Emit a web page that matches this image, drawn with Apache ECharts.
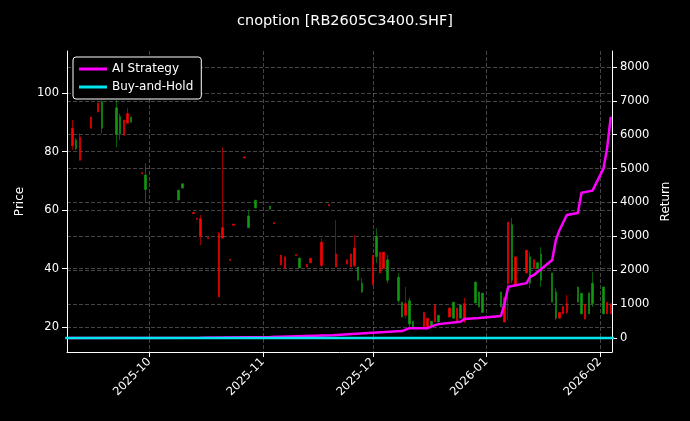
<!DOCTYPE html>
<html><head><meta charset="utf-8">
<script src="https://cdn.jsdelivr.net/npm/echarts@6/dist/echarts.min.js"></script>
<style>html,body{margin:0;padding:0;background:#000;}#c{width:690px;height:421px;}</style>
</head><body><div id="c"></div>
<script>
const dates=['2025-09-10','2025-09-11','2025-09-12','2025-09-15','2025-09-17','2025-09-18','2025-09-22','2025-09-23','2025-09-24','2025-09-25','2025-09-26','2025-09-29','2025-09-30','2025-10-09','2025-10-10','2025-10-13','2025-10-14','2025-10-15','2025-10-17','2025-10-20','2025-10-21','2025-10-23','2025-10-24','2025-10-27','2025-10-28','2025-10-30','2025-11-03','2025-11-04','2025-11-06','2025-11-07','2025-11-10','2025-11-11','2025-11-13','2025-11-14','2025-11-17','2025-11-19','2025-11-21','2025-11-24','2025-11-25','2025-11-26','2025-11-27','2025-11-28','2025-12-01','2025-12-02','2025-12-03','2025-12-04','2025-12-05','2025-12-08','2025-12-09','2025-12-10','2025-12-11','2025-12-12','2025-12-15','2025-12-16','2025-12-17','2025-12-18','2025-12-19','2025-12-22','2025-12-23','2025-12-24','2025-12-25','2025-12-26','2025-12-29','2025-12-30','2025-12-31','2026-01-05','2026-01-06','2026-01-07','2026-01-08','2026-01-09','2026-01-12','2026-01-13','2026-01-14','2026-01-15','2026-01-16','2026-01-19','2026-01-20','2026-01-21','2026-01-22','2026-01-23','2026-01-26','2026-01-27','2026-01-28','2026-01-29','2026-01-30','2026-02-02','2026-02-03','2026-02-04'];
const opens=[82,84,77,88,93.5,97,95,92,85.6,89.7,91.8,72.4,72,66.8,69,58.8,56.8,51,50.2,30.3,50.4,42.8,54.8,77.8,58,63.4,61.4,55.3,41.2,40,44.4,43.6,40.5,42,41,61.5,40.5,41.5,40.5,41,40.5,35,34.4,51,38.5,40,43,37,28.5,24,29,22,19.7,19.7,22,21.7,24,23.4,28.5,21.7,27.5,22,35.4,32,31.6,32,21.7,34.8,55,34.4,38.5,44,40,42,45,38.5,32,23,24.5,25,33.7,31.5,22.7,31.7,35,33.7,24.5,24.5];
const closes=[88,81,85,91.8,96.6,88,86,86,90.8,93,90,72.8,67,63.4,67.5,59.2,57.2,57,50.6,52,54,43.2,55.2,78.2,54,60.7,60.3,55.7,44.6,44,44.8,40.2,41.5,43.5,49,61.9,45,43,45,47,36,32,44.6,44,45.6,45.6,36,29,23.4,28,21,20,25,23,20,27.5,21.7,26.5,23,26.5,23,28,28.2,26.8,25,26.8,30,55.9,36,44,46.3,35,43,40,36,28.5,23,25,27,28,28.5,24.5,27.8,24.5,28,24.5,28.5,28];
const lows=[80.5,80.5,77,88,93.5,86.3,81.5,84,85.6,89.7,90,72.4,62.4,63.4,67.5,58.8,56.8,48,50.2,30.3,50.4,42.8,54.8,77.8,53.8,60.7,60.3,55.3,41.2,40,44.4,40.2,40.5,42,40.5,61.5,40.5,41.5,40.5,40.5,36,31.6,34.4,41.9,38.5,40,35,28.2,23.4,23,20,20,19.7,19.7,20,21.7,21.7,23.4,23,21.7,23,21.4,28.2,26.8,25,26.8,21.7,22.4,35,34.4,38.5,33.3,40,40,33.7,28.5,22.4,23,24.5,24.5,28.5,24.5,22.7,24.5,26.8,24.5,24.5,24.5];
const highs=[90.8,84.6,86.3,91.8,96.6,97.6,97.6,93,90.8,95,91.8,72.8,76,66.8,69,59.2,57.2,58.3,50.6,52.5,81.5,43.2,55.2,78.2,60,63.4,61.4,55.7,44.6,44,44.8,43.6,41.5,43.5,50.4,61.9,56.6,43,45,51.5,40.5,36.7,44.6,53.8,45.6,45.6,44.6,38.5,28.5,33.7,30,22,25,23,22,27.5,24,26.5,28.5,26.5,27.5,30,35.4,32,31.6,32,30,55.9,57.3,44,46.3,45.6,43,42,47.3,38.5,33.3,25,27,31,33.7,31.5,27.8,31.7,38.8,33.7,28.5,28];
const stratDates=['2025-09-09','2025-10-15','2025-11-03','2025-11-20','2025-12-01','2025-12-09','2025-12-11','2025-12-16','2025-12-18','2025-12-19','2025-12-25','2025-12-26','2025-12-30','2026-01-05','2026-01-06','2026-01-07','2026-01-12','2026-01-13','2026-01-14','2026-01-19','2026-01-20','2026-01-21','2026-01-23','2026-01-26','2026-01-27','2026-01-30','2026-02-02','2026-02-03','2026-02-04'];
const strategy=[0,10,30,80,155,205,290,290,380,410,480,560,590,650,1030,1515,1620,1810,1860,2300,2890,3190,3630,3690,4290,4350,5000,5600,6530];
const holdDates=['2025-09-08','2026-02-05'];
const hold=[0,0];
const monthTicks=['2025-10-01','2025-11-01','2025-12-01','2026-01-01','2026-02-01'];
const priceTicks=[20,40,60,80,100];
const returnTicks=[0,1000,2000,3000,4000,5000,6000,7000,8000];

const ts=d=>Date.parse(d+'T00:00:00Z');
const chart=echarts.init(document.getElementById('c'));
const grid='rgba(150,150,150,0.45)';
const mt=monthTicks.map(ts);
const F='DejaVu Sans';
chart.setOption({
  backgroundColor:'#000',animation:false,
  title:{text:'cnoption [RB2605C3400.SHF]',left:'center',top:9,textStyle:{color:'#fff',fontSize:14.5,fontWeight:'normal',fontFamily:F}},
  legend:{left:73,top:57,orient:'vertical',itemGap:6,padding:[6,8,6,6],backgroundColor:'#000',borderColor:'#fff',borderWidth:1,borderRadius:3,
    textStyle:{color:'#fff',fontSize:12,fontFamily:F},itemWidth:28,itemHeight:3,icon:'rect',
    data:[{name:'AI Strategy',itemStyle:{color:'#ff00ff'}},{name:'Buy-and-Hold',itemStyle:{color:'#00e5ee'}}]},
  grid:{left:67,right:78,top:51,bottom:69},
  xAxis:{type:'value',min:ts('2025-09-08')+12*3600e3,max:ts('2026-02-04')+8*3600e3,
    axisLine:{show:true,onZero:false,lineStyle:{color:'#fff'}},axisTick:{show:true,customValues:mt,lineStyle:{color:'#fff'}},
    axisLabel:{color:'#fff',rotate:45,fontSize:11.5,fontFamily:F,customValues:mt,
      formatter:v=>{const d=new Date(v);return d.getUTCFullYear()+'-'+String(d.getUTCMonth()+1).padStart(2,'0');}},
    splitLine:{show:true,lineStyle:{color:grid,type:'dashed'}}},
  yAxis:[
    {type:'value',min:11.45,max:114.4,name:'Price',nameLocation:'middle',nameGap:37,nameTextStyle:{color:'#fff',fontSize:12,fontFamily:F},
     axisLine:{show:true,lineStyle:{color:'#fff'}},axisTick:{show:true,customValues:priceTicks},
     axisLabel:{color:'#fff',fontSize:11.5,fontFamily:F,customValues:priceTicks,formatter:v=>String(v)},
     splitLine:{show:true,lineStyle:{color:grid,type:'dashed'}}},
    {type:'value',min:-413,max:8472,name:'Return',nameLocation:'middle',nameGap:47,nameRotate:90,nameTextStyle:{color:'#fff',fontSize:12,fontFamily:F},
     axisLine:{show:true,lineStyle:{color:'#fff'}},axisTick:{show:true,customValues:returnTicks},
     axisLabel:{color:'#fff',fontSize:11.5,fontFamily:F,customValues:returnTicks,formatter:v=>String(v)},
     splitLine:{show:true,lineStyle:{color:grid,type:'dashed'}}}
  ],
  series:[
    {type:'candlestick',yAxisIndex:0,barWidth:2,data:dates.map((d,i)=>[ts(d),opens[i],closes[i],lows[i],highs[i]]),
     itemStyle:{color:'#ff0000',color0:'#119911',borderColor:'#ff0000',borderColor0:'#119911',borderWidth:0.6}},
    {name:'AI Strategy',type:'line',yAxisIndex:1,showSymbol:false,data:stratDates.map((d,i)=>[ts(d),strategy[i]]),lineStyle:{color:'#ff00ff',width:2.5},itemStyle:{color:'#ff00ff'},z:5},
    {name:'Buy-and-Hold',type:'line',yAxisIndex:1,showSymbol:false,data:holdDates.map((d,i)=>[ts(d),hold[i]]),lineStyle:{color:'#00e5ee',width:2.5},itemStyle:{color:'#00e5ee'},z:6}
  ]
});
</script></body></html>
